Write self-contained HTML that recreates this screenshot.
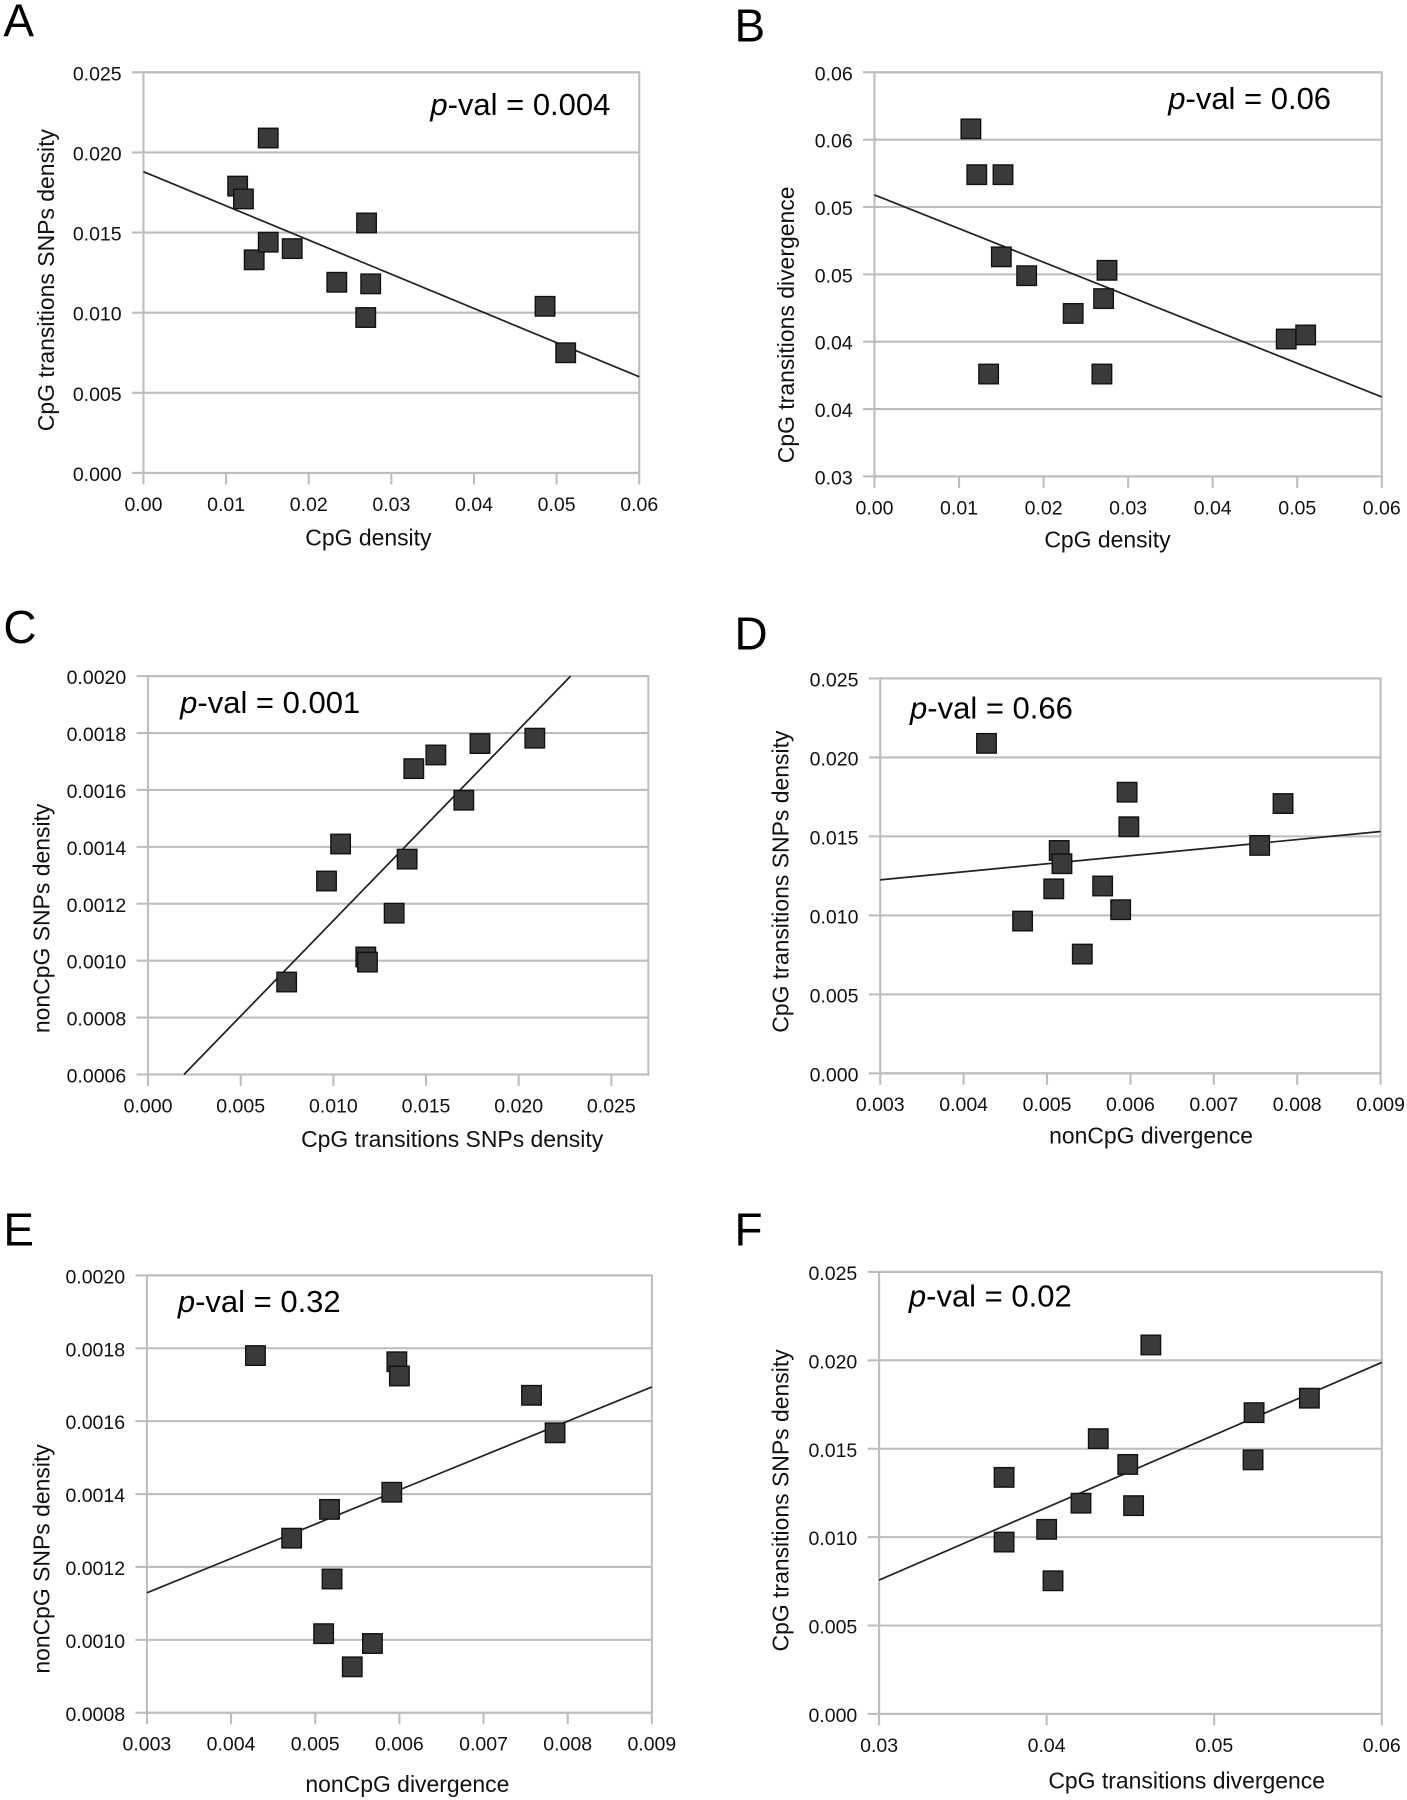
<!DOCTYPE html>
<html><head><meta charset="utf-8"><title>CpG scatter panels</title>
<style>
html,body{margin:0;padding:0;background:#fff;}
svg{display:block;font-family:"Liberation Sans",sans-serif;}
</style></head>
<body>
<svg id="fig" xmlns="http://www.w3.org/2000/svg" width="1407" height="1800" viewBox="0 0 1226 1568" preserveAspectRatio="none"></svg>
<script>
// ---- Panel A data ----
const aX = [0.0114,0.0121,0.0151,0.0134,0.0151,0.0180,0.0234,0.0270,0.0275,0.0269,0.0486,0.0511];
const aY = [0.0179,0.0171,0.0209,0.0133,0.0144,0.0140,0.0119,0.0156,0.0118,0.0097,0.0104,0.0075];
const aLine = [[0,0.0188],[0.06,0.0060]];
const aYTicks = ["0.000","0.005","0.010","0.015","0.020","0.025"];
const aXTicks = ["0.00","0.01","0.02","0.03","0.04","0.05","0.06"];
// ---- Panel B data ----
const bX = [0.0114,0.0121,0.0152,0.0150,0.0180,0.0235,0.0271,0.0275,0.0135,0.0269,0.0487,0.0510];
const bY = [0.0558,0.0524,0.0524,0.0463,0.0449,0.0421,0.0432,0.0453,0.0376,0.0376,0.0402,0.0405];
const bLine = [[0,0.0509],[0.06,0.0359]];
const bYTicks = ["0.03","0.04","0.04","0.05","0.05","0.06","0.06"];
const bXTicks = ["0.00","0.01","0.02","0.03","0.04","0.05","0.06"];
// ---- Panel C data ----
const cX = [0.00748,0.00963,0.01039,0.01175,0.01184,0.01328,0.01398,0.01434,0.01553,0.01704,0.01791,0.02087];
const cY = [0.000925,0.00128,0.00141,0.001013,0.000995,0.001167,0.001357,0.001675,0.001723,0.001564,0.001763,0.001782];
const cLine = [[0.00194,0.0006],[0.0228,0.002]];
const cYTicks = ["0.0006","0.0008","0.0010","0.0012","0.0014","0.0016","0.0018","0.0020"];
const cXTicks = ["0.000","0.005","0.010","0.015","0.020","0.025"];
// ---- Panel D data ----
const dX = [0.004274,0.00596,0.005981,0.00783,0.00755,0.005146,0.005179,0.005081,0.005667,0.005883,0.004707,0.005423];
const dY = [0.02089,0.0178,0.01561,0.01708,0.01443,0.01411,0.01327,0.01168,0.01186,0.01036,0.00964,0.00755];
const dLine = [[0.003,0.01225],[0.009,0.01531]];
const dYTicks = ["0.000","0.005","0.010","0.015","0.020","0.025"];
const dXTicks = ["0.003","0.004","0.005","0.006","0.007","0.008","0.009"];
// ---- Panel E data ----
const eX = [0.00429,0.00597,0.0060,0.00757,0.00785,0.00591,0.00517,0.00472,0.0052,0.0051,0.00568,0.00544];
const eY = [0.00178,0.001763,0.001724,0.001671,0.001568,0.001405,0.001358,0.001279,0.001167,0.001017,0.00099,0.000926];
const eLine = [[0.003,0.001129],[0.009,0.001694]];
const eYTicks = ["0.0008","0.0010","0.0012","0.0014","0.0016","0.0018","0.0020"];
const eXTicks = ["0.003","0.004","0.005","0.006","0.007","0.008","0.009"];
// ---- Panel F data ----
const fX = [0.03746,0.03746,0.0400,0.04038,0.04205,0.04308,0.04484,0.04519,0.04622,0.05238,0.05232,0.05568];
const fY = [0.01338,0.00972,0.01044,0.00753,0.01192,0.01557,0.01411,0.01178,0.02087,0.01704,0.01437,0.01786];
const fLine = [[0.03,0.00757],[0.06,0.01988]];
const fYTicks = ["0.000","0.005","0.010","0.015","0.020","0.025"];
const fXTicks = ["0.03","0.04","0.05","0.06"];

const NS = "http://www.w3.org/2000/svg";
const svg = document.getElementById('fig');
function mk(tag, attrs, parent){
  const e = document.createElementNS(NS, tag);
  for (const k in attrs) e.setAttribute(k, attrs[k]);
  (parent||svg).appendChild(e);
  return e;
}
const panels = [
  {id:'a', letter:'A', lx:3, ly:32, L:125,R:557,T:63,B:412, xmin:0,xmax:0.06,xstep:0.01, ymin:0,ymax:0.025, xs:aX, ys:aY, line:aLine, yt:aYTicks, xt:aXTicks,
   ytitle:'CpG transitions SNPs density', ytx:40, yty:244, xtitle:'CpG density', xtx:321, xty:475, pv:'0.004', px:375, py:100},
  {id:'b', letter:'B', lx:640, ly:36, L:762,R:1204,T:63,B:415, xmin:0,xmax:0.06,xstep:0.01, ymin:0.03,ymax:0.06, xs:bX, ys:bY, line:bLine, yt:bYTicks, xt:bXTicks,
   ytitle:'CpG transitions divergence', ytx:685, yty:283, xtitle:'CpG density', xtx:965, xty:477, pv:'0.06', px:1018, py:95},
  {id:'c', letter:'C', lx:3, ly:560, L:129,R:565,T:589,B:936, xmin:0,xmax:0.027,xstep:0.005, ymin:0.0006,ymax:0.002, xs:cX, ys:cY, line:cLine, yt:cYTicks, xt:cXTicks,
   ytitle:'nonCpG  SNPs density', ytx:36, yty:800, xtitle:'CpG transitions SNPs density', xtx:394, xty:999, pv:'0.001', px:157, py:621},
  {id:'d', letter:'D', lx:640, ly:566, L:767,R:1203,T:591,B:935, xmin:0.003,xmax:0.009,xstep:0.001, ymin:0,ymax:0.025, xs:dX, ys:dY, line:dLine, yt:dYTicks, xt:dXTicks,
   ytitle:'CpG transitions SNPs density', ytx:680, yty:768, xtitle:'nonCpG divergence', xtx:1003, xty:996, pv:'0.66', px:793, py:626},
  {id:'e', letter:'E', lx:3, ly:1085, L:128,R:568,T:1111,B:1492, xmin:0.003,xmax:0.009,xstep:0.001, ymin:0.0008,ymax:0.002, xs:eX, ys:eY, line:eLine, yt:eYTicks, xt:eXTicks,
   ytitle:'nonCpG SNPs density', ytx:36, yty:1358, xtitle:'nonCpG divergence', xtx:355, xty:1561, pv:'0.32', px:155, py:1143},
  {id:'f', letter:'F', lx:640, ly:1085, L:766,R:1204,T:1108,B:1493, xmin:0.03,xmax:0.06,xstep:0.01, ymin:0,ymax:0.025, xs:fX, ys:fY, line:fLine, yt:fYTicks, xt:fXTicks,
   ytitle:'CpG transitions SNPs density', ytx:680, yty:1307, xtitle:'CpG transitions divergence', xtx:1034, xty:1558, pv:'0.02', px:792, py:1138}
];
panels.forEach(p => {
  const sx = v => p.L + (v - p.xmin) / (p.xmax - p.xmin) * (p.R - p.L);
  const sy = v => p.B - (v - p.ymin) / (p.ymax - p.ymin) * (p.B - p.T);
  const g = mk('g', {});
  
  
  const lt = mk('text', {x:p.lx, y:p.ly, 'font-size':40, fill:'#000'}, g);
  lt.textContent = p.letter;
  
  
  const ny = p.yt.length;
  for (let i = 0; i < ny; i++) {
    const y = p.B - i / (ny - 1) * (p.B - p.T);
    const gl = mk('line', {x1:p.L-10, x2:p.R, y1:y, y2:y, stroke:'#bdbdbd', 'stroke-width':1.8}, g);
    
    
    const t = mk('text', {x:p.L-19, y:y+7, 'font-size':17, 'text-anchor':'end', fill:'#111'}, g);
    t.textContent = p.yt[i];
    
    
  }
  for (let i = 0; i < p.xt.length; i++) {
    const x = sx(p.xmin + i * p.xstep);
    const tk = mk('line', {x1:x, x2:x, y1:p.B, y2:p.B+10, stroke:'#bdbdbd', 'stroke-width':1.8}, g);
    
    
    const t = mk('text', {x:x, y:p.B+33, 'font-size':17, 'text-anchor':'middle', fill:'#111'}, g);
    t.textContent = p.xt[i];
    
    
  }
  const fr = mk('rect', {x:p.L, y:p.T, width:p.R-p.L, height:p.B-p.T, fill:'none', stroke:'#bdbdbd', 'stroke-width':1.8}, g);
  
  
  const rl = mk('line', {x1:sx(p.line[0][0]), y1:sy(p.line[0][1]), x2:sx(p.line[1][0]), y2:sy(p.line[1][1]), stroke:'#222', 'stroke-width':1.5}, g);
  
  
  const s = 17;
  for (let i = 0; i < p.xs.length; i++) {
    const r = mk('rect', {x:sx(p.xs[i])-s/2, y:sy(p.ys[i])-s/2, width:s, height:s, fill:'#3a3a3a', stroke:'#111', 'stroke-width':1.2}, g);
    
    
  }
  const yt = mk('text', {x:p.ytx, y:p.yty, 'font-size':20, 'text-anchor':'middle', fill:'#111', transform:'rotate(-90 '+p.ytx+' '+p.yty+')', dy:'0.35em'}, g);
  yt.textContent = p.ytitle;
  
  
  const xt = mk('text', {x:p.xtx, y:p.xty, 'font-size':20, 'text-anchor':'middle', fill:'#111'}, g);
  xt.textContent = p.xtitle;
  
  
  const pv = mk('text', {x:p.px, y:p.py, 'font-size':27, fill:'#000'}, g);
  
  
  const it = mk('tspan', {'font-style':'italic'}, pv);
  it.textContent = 'p';
  const rest = mk('tspan', {}, pv);
  rest.textContent = '-val = ' + p.pv;
});
</script>
</body></html>
